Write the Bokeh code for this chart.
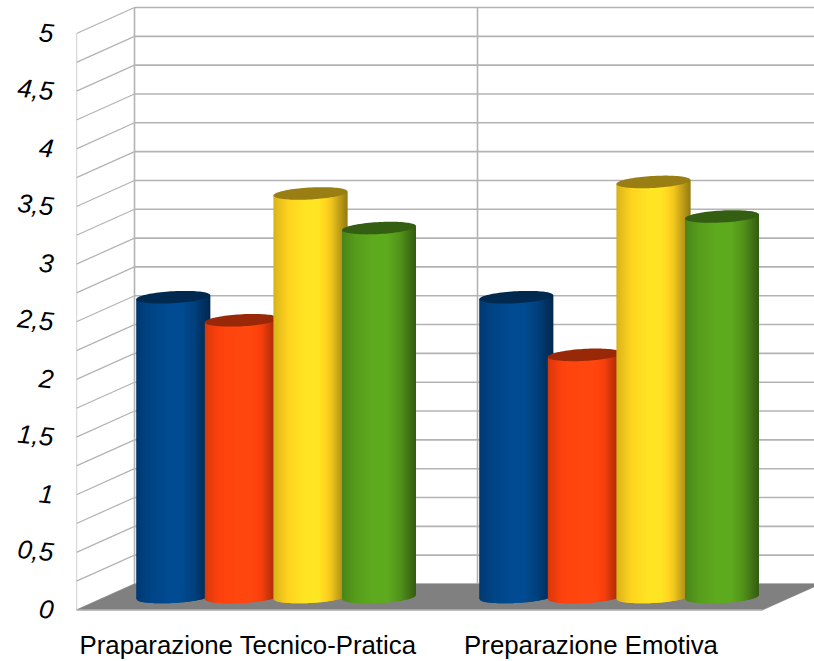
import numpy as np
from bokeh.embed import file_html
from bokeh.models import FixedTicker, Range1d
from bokeh.plotting import figure
from bokeh.resources import INLINE

categories = ["Praparazione Tecnico-Pratica", "Preparazione Emotiva"]
series_blue = [2.6, 2.6]
series_red = [2.4, 2.1]
series_yellow = [3.5, 3.6]
series_green = [3.2, 3.3]
value_ticks = [0, 0.5, 1, 1.5, 2, 2.5, 3, 3.5, 4, 4.5, 5]
value_labels = ["0", "0,5", "1", "1,5", "2", "2,5", "3", "3,5", "4", "4,5", "5"]
grid_values = [i / 4 for i in range(21)]

base_colours = ["#004586", "#ff420e", "#ffd320", "#579d1c"]

# Scale of the frame: pixels per unit on each axis
PX_PER_CATEGORY = 343.0
PX_PER_VALUE = 115.2
WIDTH, HEIGHT = 814, 661
LEFT, ZERO_Y, BOTTOM_Y = 76, 609, 611.5

# Oblique depth of the box, in axis units
DEPTH_X = 58 / PX_PER_CATEGORY
DEPTH_Y = 26 / PX_PER_VALUE

# Cylinder shape, in axis units
CYL_STEP = 0.2
CYL_SHIFT = -0.9 / PX_PER_CATEGORY
CYL_HALF = 37 / PX_PER_CATEGORY
CYL_MINOR = 6 / PX_PER_VALUE
CYL_TILT = (4 / 74) * PX_PER_CATEGORY / PX_PER_VALUE
STRIPS = 74

# Horizontal shading across a cylinder: position, brightness
SHADE_POS = [0.0, 0.06, 0.2, 0.42, 0.62, 0.78, 0.9, 1.0]
SHADE_VAL = [0.84, 0.90, 1.0, 1.08, 1.08, 0.94, 0.74, 0.58]
TOP_SHADE = 0.60


def tint(colour, k):
    rgb = [int(colour[i:i + 2], 16) for i in (1, 3, 5)]
    return "#%02x%02x%02x" % tuple(min(255, int(round(c * k))) for c in rgb)


p = figure(
    width=WIDTH, height=HEIGHT, output_backend="svg", toolbar_location=None,
    x_range=Range1d(0, (WIDTH - LEFT) / PX_PER_CATEGORY),
    y_range=Range1d((ZERO_Y - BOTTOM_Y) / PX_PER_VALUE, ZERO_Y / PX_PER_VALUE),
    min_border_left=LEFT, min_border_right=0, min_border_top=0,
    min_border_bottom=HEIGHT - int(BOTTOM_Y + 0.5),
    outline_line_color=None, background_fill_color="white", border_fill_color="white",
)
p.grid.visible = False

n_cat = len(categories)
wall_colour = "#b3b3b3"
top_value = value_ticks[-1]

# Side wall rungs and back wall rules
p.segment([0] * len(grid_values), grid_values, [DEPTH_X] * len(grid_values),
          [v + DEPTH_Y for v in grid_values], line_color=wall_colour, line_width=1.25)
p.segment([DEPTH_X] * len(grid_values), [v + DEPTH_Y for v in grid_values],
          [n_cat + DEPTH_X] * len(grid_values), [v + DEPTH_Y for v in grid_values],
          line_color=wall_colour, line_width=1.6)
p.segment([0], [0], [0], [top_value], line_color=wall_colour, line_width=1.25)
p.segment([i + DEPTH_X for i in range(n_cat)], [DEPTH_Y] * n_cat,
          [i + DEPTH_X for i in range(n_cat)], [top_value + DEPTH_Y] * n_cat,
          line_color=wall_colour, line_width=1.6)

# Floor
p.patch([0, DEPTH_X, n_cat + DEPTH_X, n_cat], [0, DEPTH_Y, DEPTH_Y, 0],
        fill_color="#808080", line_color="#808080", line_width=0.5)
p.segment([0], [0], [n_cat], [0], line_color=wall_colour, line_width=1.6)

# Cylinders, drawn left to right so that each one overlaps its neighbour
all_series = [series_blue, series_red, series_yellow, series_green]
theta = np.linspace(0, 2 * np.pi, 90)
for c in range(n_cat):
    for s, values in enumerate(all_series):
        value = values[c]
        cx = c + CYL_STEP * (s + 1) + DEPTH_X / 2 + CYL_SHIFT
        base = DEPTH_Y / 2
        top = base + value
        edges = np.linspace(-1, 1, STRIPS + 1)
        xs, ys, colours = [], [], []
        for i in range(STRIPS):
            u0 = edges[i]
            u1 = edges[min(i + 2, STRIPS)]  # overlap the next strip to hide seams
            x0, x1 = cx + u0 * CYL_HALF, cx + u1 * CYL_HALF
            low0 = base - CYL_MINOR * np.sqrt(max(0, 1 - u0 * u0)) + CYL_TILT * u0 * CYL_HALF
            low1 = base - CYL_MINOR * np.sqrt(max(0, 1 - u1 * u1)) + CYL_TILT * u1 * CYL_HALF
            high0 = top + CYL_TILT * u0 * CYL_HALF
            high1 = top + CYL_TILT * u1 * CYL_HALF
            xs.append([x0, x1, x1, x0])
            ys.append([low0, low1, high1, high0])
            mid = (i + 0.5) / STRIPS
            colours.append(tint(base_colours[s], float(np.interp(mid, SHADE_POS, SHADE_VAL))))
        p.patches(xs, ys, fill_color=colours, line_color=None)
        ell_x = cx + CYL_HALF * np.cos(theta)
        ell_y = top + CYL_MINOR * np.sin(theta) + CYL_TILT * CYL_HALF * np.cos(theta)
        p.patch(ell_x.tolist(), ell_y.tolist(), fill_color=tint(base_colours[s], TOP_SHADE), line_color=None)

# Axes
p.yaxis.ticker = FixedTicker(ticks=value_ticks)
p.yaxis.major_label_overrides = dict(zip(value_ticks, value_labels))
p.yaxis.major_label_text_font = "Liberation Sans"
p.yaxis.major_label_text_font_style = "italic"
p.yaxis.major_label_text_font_size = "26px"
p.yaxis.major_label_text_color = "#000000"
p.yaxis.major_label_orientation = -0.1
p.yaxis.major_label_standoff = 17
p.yaxis.axis_line_color = None
p.yaxis.major_tick_line_color = None
p.yaxis.minor_tick_line_color = None

cat_ticks = [i + 0.5 for i in range(n_cat)]
p.xaxis.ticker = FixedTicker(ticks=cat_ticks)
p.xaxis.major_label_overrides = dict(zip(cat_ticks, categories))
p.xaxis.major_label_text_font = "Liberation Sans"
p.xaxis.major_label_text_font_size = "25.8px"
p.xaxis.major_label_text_color = "#000000"
p.xaxis.major_label_standoff = 12
p.xaxis.axis_line_color = None
p.xaxis.major_tick_line_color = None
p.xaxis.minor_tick_line_color = None

open("out.html", "w").write(file_html(p, INLINE))
